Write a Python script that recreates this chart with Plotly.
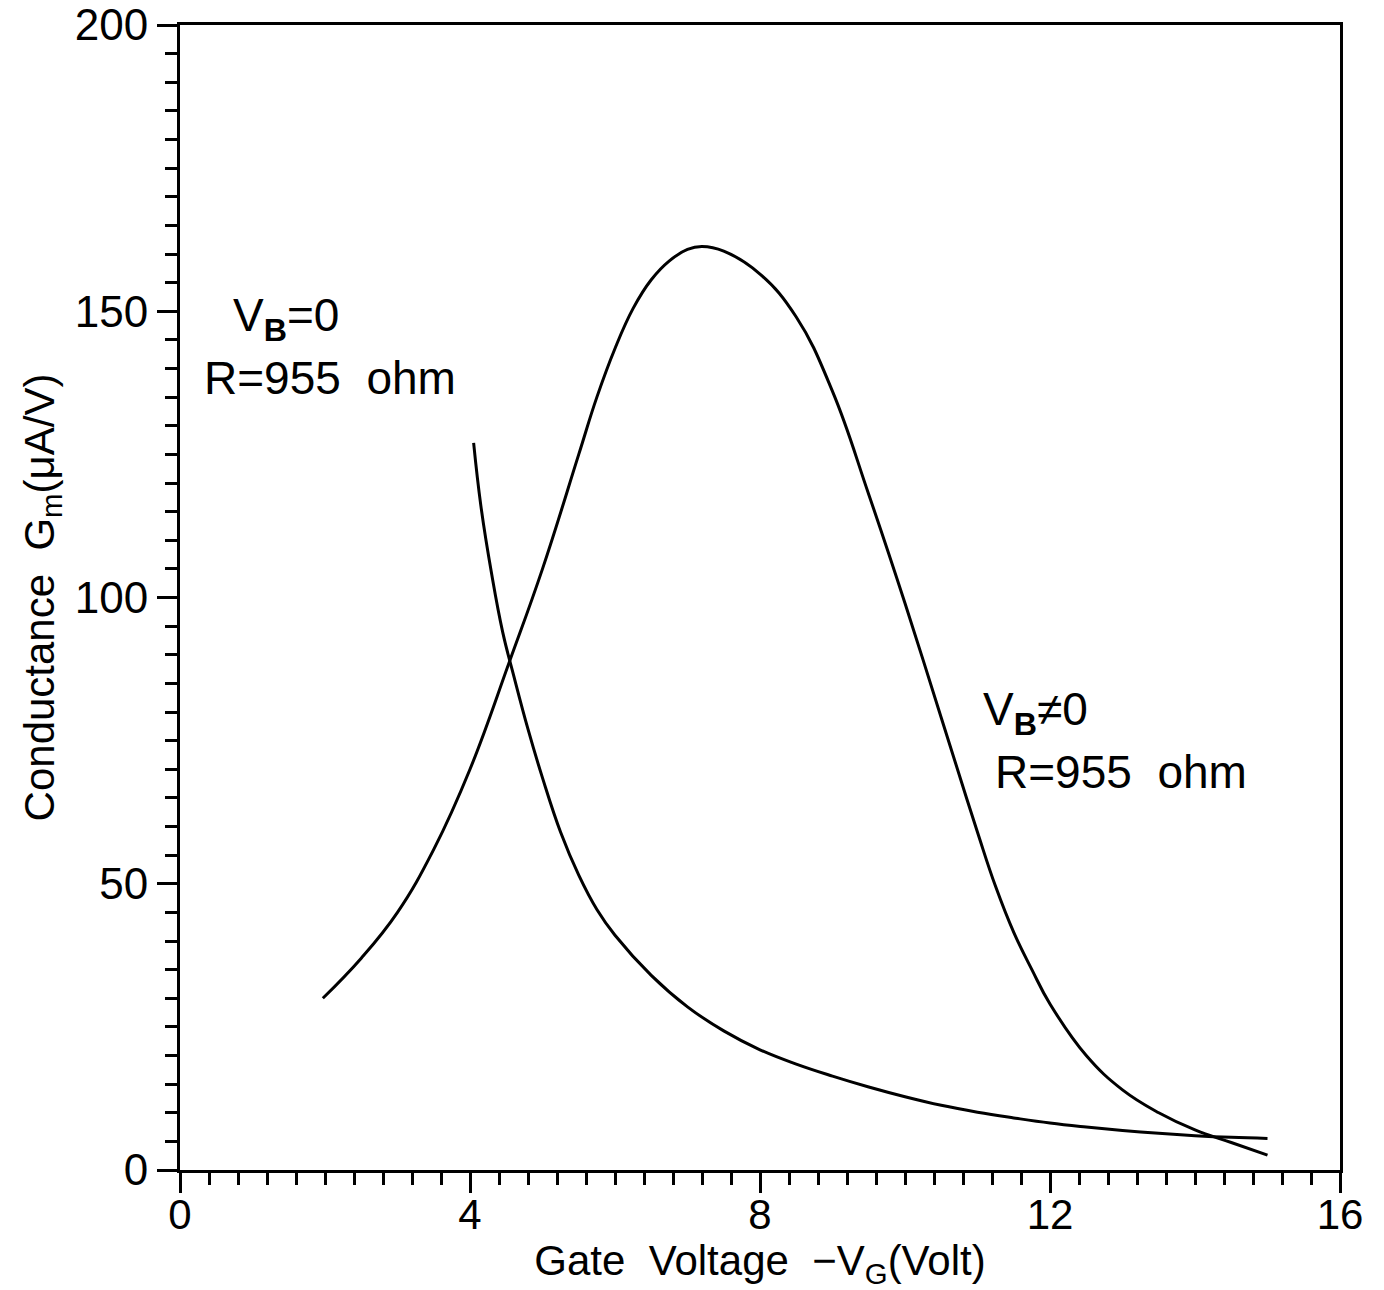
import plotly.graph_objects as go

# V_B = 0 curve (decreasing)
vg_b0 = [4.05, 4.15, 4.3, 4.45, 4.6, 4.8, 5.0, 5.25, 5.5, 5.75, 6.0, 6.5, 7.0, 7.5, 8.0, 8.5, 9.0, 9.5,
         10.0, 10.5, 11.0, 11.5, 12.0, 12.5, 13.0, 13.5, 14.0, 14.5, 15.0]
gm_b0 = [127, 116, 104, 94, 86.5, 77, 68.5, 59, 51.5, 45.5, 41, 34, 28.5, 24.3, 21, 18.5, 16.4, 14.5,
         12.8, 11.3, 10.1, 9.1, 8.2, 7.5, 6.9, 6.4, 6.0, 5.7, 5.5]

# V_B != 0 curve (peaked)
vg_bn = [1.97, 2.5, 3.0, 3.5, 4.0, 4.55, 5.0, 5.5, 5.75, 6.0, 6.25, 6.5, 6.75, 7.0, 7.2, 7.5, 8.0, 8.5,
         9.0, 9.5, 10.0, 10.5, 11.0, 11.25, 11.5, 11.75, 12.0, 12.5, 13.0, 13.5, 14.0, 14.5, 15.0]
gm_bn = [30, 37, 45, 56, 70, 89, 105, 125, 135, 143.5, 150.5, 155.5, 158.8, 160.8, 161.3, 160.5, 156.5, 149,
         136, 118, 99, 79, 59, 49.5, 41.5, 35, 29, 20, 14, 10, 7, 4.8, 2.6]

x_ticks = [0, 4, 8, 12, 16]
y_ticks = [0, 50, 100, 150, 200]

FONT = "Liberation Sans, Arial, sans-serif"
line = dict(color="black", width=3, shape="spline", smoothing=1.2)

fig = go.Figure()
fig.add_trace(go.Scatter(x=vg_b0, y=gm_b0, mode="lines", line=line, showlegend=False))
fig.add_trace(go.Scatter(x=vg_bn, y=gm_bn, mode="lines", line=line, showlegend=False))

ann_font = dict(family=FONT, size=46, color="black")
fig.add_annotation(x=0.7, y=148.8, text="V<sub><b>B</b></sub>=0", showarrow=False,
                   xanchor="left", yanchor="middle", font=ann_font)
fig.add_annotation(x=0.3, y=138.3, text="R=955  ohm", showarrow=False,
                   xanchor="left", yanchor="middle", font=ann_font)
fig.add_annotation(x=11.05, y=80.0, text="V<sub><b>B</b></sub>≠0", showarrow=False,
                   xanchor="left", yanchor="middle", font=ann_font)
fig.add_annotation(x=11.22, y=69.5, text="R=955  ohm", showarrow=False,
                   xanchor="left", yanchor="middle", font=ann_font)

fig.update_layout(
    width=1376, height=1282,
    margin=dict(l=172, r=44, t=17, b=120, autoexpand=False),
    paper_bgcolor="white", plot_bgcolor="white",
    font=dict(family=FONT, color="black"),
)
fig.update_xaxes(
    range=[0, 16], tickvals=x_ticks, ticktext=[str(v) for v in x_ticks],
    showgrid=False, zeroline=False, automargin=False,
    showline=True, linecolor="black", linewidth=3, mirror=True,
    ticks="outside", ticklen=20, tickwidth=3, tickcolor="black",
    tickfont=dict(size=42, family=FONT), ticklabelstandoff=-14, ticklabeloverflow="allow",
    minor=dict(dtick=0.4, tick0=0, ticks="outside", ticklen=12, tickwidth=2.5, tickcolor="black", showgrid=False),
    title=dict(text="Gate  Voltage  −V<sub>G</sub>(Volt)", font=dict(size=42, family=FONT), standoff=8),
)
fig.update_yaxes(
    range=[0, 200], tickvals=y_ticks, ticktext=[str(v) for v in y_ticks],
    showgrid=False, zeroline=False, automargin=False,
    showline=True, linecolor="black", linewidth=3, mirror=True,
    ticks="outside", ticklen=20, tickwidth=3, tickcolor="black",
    tickfont=dict(size=44, family=FONT), ticklabeloverflow="allow",
    minor=dict(dtick=5, tick0=0, ticks="outside", ticklen=12, tickwidth=2.5, tickcolor="black", showgrid=False),
    title=dict(text="Conductance  G<sub>m</sub>(μA/V)", font=dict(size=42, family=FONT), standoff=8),
)

fig.write_html("out.html")
